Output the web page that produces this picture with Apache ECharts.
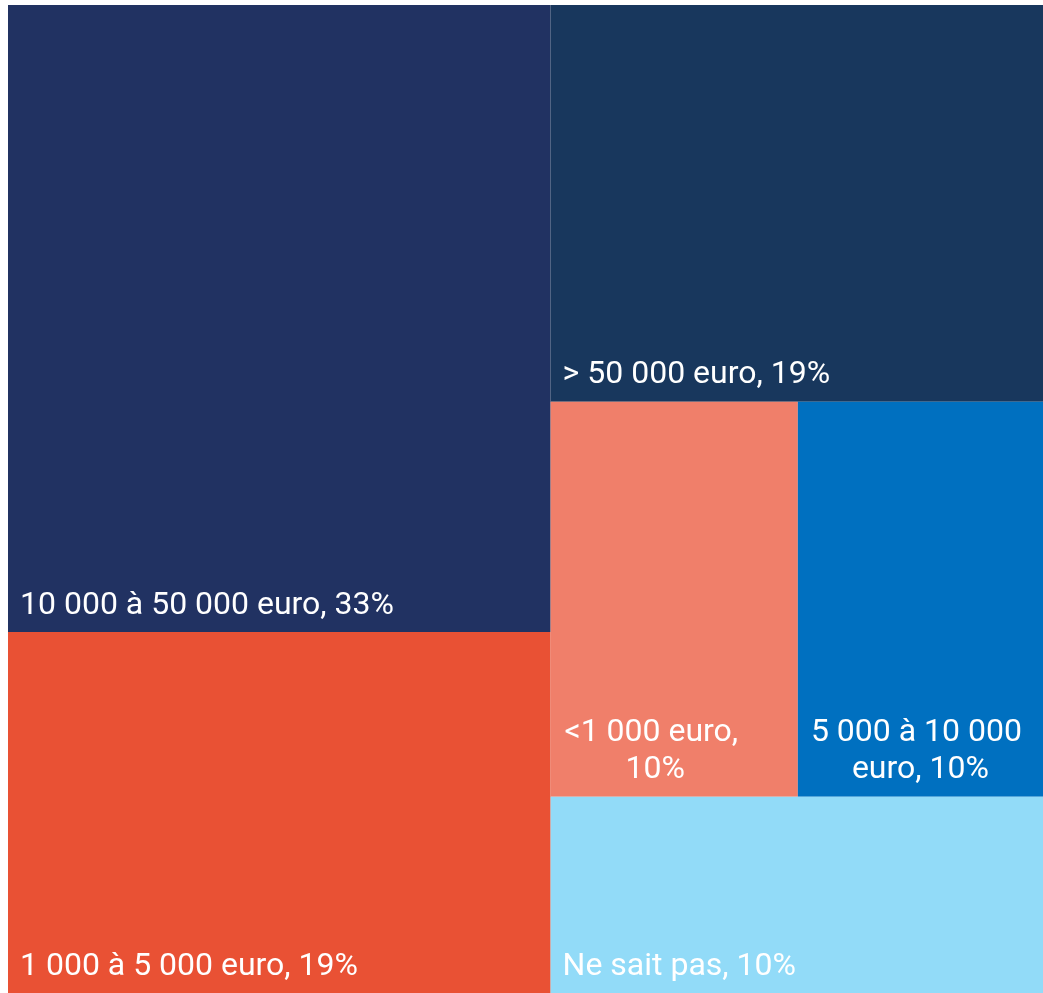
<!DOCTYPE html>
<html>
<head>
<meta charset="utf-8">
<script src="https://cdn.jsdelivr.net/npm/echarts@6/dist/echarts.min.js"></script>
<style>
  html, body { margin: 0; padding: 0; background: #ffffff; }
  #chart { width: 1043px; height: 993px; }
</style>
</head>
<body>
<div id="chart"></div>
<script>
// Categories (tranches) and shares (%) estimated from the chart (labels show rounded %)
const categories = [
  '10 000 à 50 000 euro',
  '1 000 à 5 000 euro',
  '> 50 000 euro',
  '<1 000 euro',
  '5 000 à 10 000 euro',
  'Ne sait pas'
];
const shares = [33.45, 19.25, 19.2, 9.6, 9.52, 9.5];
const colors = ['#213262', '#e95134', '#18375d', '#f07f6a', '#0070c0', '#92dbf8'];

const chart = echarts.init(document.getElementById('chart'), null, { renderer: 'canvas' });

const specialLabel = {
  '<1 000 euro': { position: 'insideBottom', padding: [0, 38, 8, 0] },
  '5 000 à 10 000 euro': { position: 'insideBottom', padding: [0, 0, 8, 0] }
};

const data = categories.map((name, i) => {
  const item = { name: name, value: shares[i], itemStyle: { color: colors[i] } };
  if (specialLabel[name]) item.label = specialLabel[name];
  return item;
});

chart.setOption({
  animation: false,
  series: [{
    type: 'treemap',
    left: 8,
    top: 5,
    right: 0,
    bottom: 0,
    roam: false,
    nodeClick: false,
    squareRatio: 1,
    sort: 'desc',
    breadcrumb: { show: false },
    itemStyle: { borderWidth: 0, gapWidth: 0 },
    label: {
      show: true,
      position: 'insideBottomLeft',
      distance: 0,
      padding: [0, 12, 8, 12],
      color: '#ffffff',
      fontFamily: 'Roboto',
      fontSize: 32,
      lineHeight: 37,
      overflow: 'break',
      formatter: function (p) { return p.name + ', ' + Math.round(p.value) + '%'; }
    },
    emphasis: { disabled: true },
    data: data
  }]
});
</script>
</body>
</html>
